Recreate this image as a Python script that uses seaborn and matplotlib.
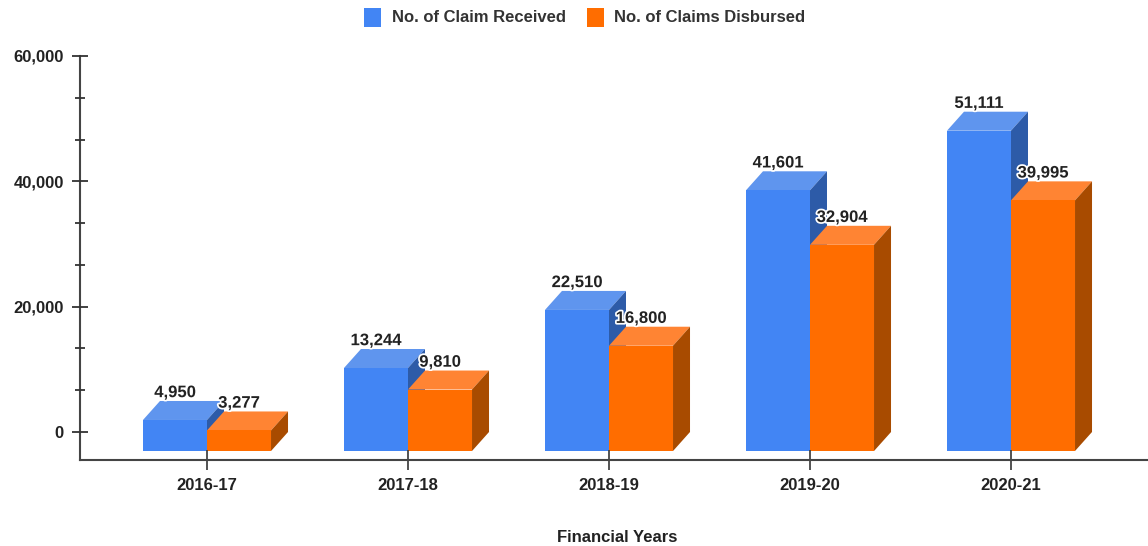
import matplotlib
matplotlib.use("Agg")
import matplotlib.pyplot as plt
import matplotlib.patheffects as pe
from matplotlib.patches import Polygon
from matplotlib.ticker import MultipleLocator, FixedLocator, FuncFormatter
import pandas as pd
import seaborn as sns

years = ["2016-17", "2017-18", "2018-19", "2019-20", "2020-21"]
received = [4950, 13244, 22510, 41601, 51111]
disbursed = [3277, 9810, 16800, 32904, 39995]
series_names = ["No. of Claim Received", "No. of Claims Disbursed"]

FRONT = ["#4285f4", "#ff6d00"]
TOP = ["#5f95ee", "#ff8433"]
SIDE = ["#2d5ba8", "#a84b00"]
INK = "#222222"
TEXT_SIZE = 12

table = pd.DataFrame({
    "year": years * 2,
    "claims": received + disbursed,
    "series": [series_names[0]] * 5 + [series_names[1]] * 5,
})

sns.set_theme(style="white")
plt.rcParams["font.family"] = ["Liberation Sans", "DejaVu Sans"]

W, H = 1148, 546
fig = plt.figure(figsize=(W / 100, H / 100), dpi=100)
ax = fig.add_axes([80 / W, 1 - 460 / H, (W - 80) / W, 404 / H])

BAR_WIDTH = 0.637
sns.barplot(data=table, x="year", y="claims", hue="series", order=years,
            hue_order=series_names, palette=FRONT, width=BAR_WIDTH, gap=0,
            saturation=1, linewidth=0, errorbar=None, ax=ax, legend=False)

ax.set_xlim(-127 / 201, (W - 207) / 201)
px_per_unit = 376 / 60000
ax.set_ylim(-28 / px_per_unit, 60000)

# Extrusion of the box faces, expressed in data units
DEPTH_X = 17 / 201
DEPTH_Y = 19 / px_per_unit

for s, (container, values) in enumerate(zip(ax.containers, [received, disbursed])):
    base_z = 1.0 + s * 0.5
    for bar, value in zip(container, values):
        x0, x1 = bar.get_x(), bar.get_x() + bar.get_width()
        bar.set_y(-DEPTH_Y)
        bar.set_height(value)
        bar.set_zorder(base_z + 0.2)
        ax.add_patch(Polygon(
            [(x0, value - DEPTH_Y), (x1, value - DEPTH_Y),
             (x1 + DEPTH_X, value), (x0 + DEPTH_X, value)],
            closed=True, facecolor=TOP[s], edgecolor="none", zorder=base_z))
        ax.add_patch(Polygon(
            [(x1, -DEPTH_Y), (x1 + DEPTH_X, 0),
             (x1 + DEPTH_X, value), (x1, value - DEPTH_Y)],
            closed=True, facecolor=SIDE[s], edgecolor="none", zorder=base_z))
        ax.annotate(f"{value:,}", xy=((x0 + x1) / 2, value), xytext=(0, 6),
                    textcoords="offset points", ha="center", va="center",
                    fontsize=TEXT_SIZE, fontweight="bold", color=INK, zorder=6,
                    path_effects=[pe.withStroke(linewidth=2.5, foreground="white")])

# Axis lines and tick marks
sns.despine(ax=ax, top=True, right=True)
for side in ("left", "bottom"):
    ax.spines[side].set_linewidth(1.5)
    ax.spines[side].set_color("#444444")
ax.set_axisbelow(False)
ax.yaxis.set_major_locator(MultipleLocator(20000))
ax.yaxis.set_minor_locator(FixedLocator(
    [t for t in (6667, 13333, 26667, 33333, 46667, 53333)]))
ax.yaxis.set_major_formatter(FuncFormatter(lambda v, _: f"{int(v):,}"))
ax.tick_params(axis="y", which="major", direction="inout", length=11.5, width=1.3,
               color="#333333", pad=6, left=True)
ax.tick_params(axis="y", which="minor", direction="inout", length=6.5, width=1.3,
               color="#333333", left=True)
ax.tick_params(axis="x", which="major", direction="inout", length=14.5, width=1.3,
               color="#444444", pad=6, bottom=True)
for label in ax.get_xticklabels() + ax.get_yticklabels():
    label.set_fontsize(TEXT_SIZE)
    label.set_fontweight("bold")
    label.set_color(INK)

ax.set_ylabel("")
ax.set_xlabel("")
fig.text(617 / W, 1 - 537 / H, "Financial Years", ha="center", va="center",
         fontsize=TEXT_SIZE, fontweight="bold", color=INK)

# Legend across the top of the figure
for s, (box_x, text_x) in enumerate([(364, 392), (587, 614)]):
    fig.patches.append(plt.Rectangle((box_x / W, 1 - 27 / H), 17 / W, 19 / H,
                                     transform=fig.transFigure,
                                     facecolor=FRONT[s], edgecolor="none"))
    fig.text(text_x / W, 1 - 17 / H, series_names[s], ha="left", va="center",
             fontsize=TEXT_SIZE, fontweight="bold", color="#333333")

fig.savefig("out.png", dpi=100)
